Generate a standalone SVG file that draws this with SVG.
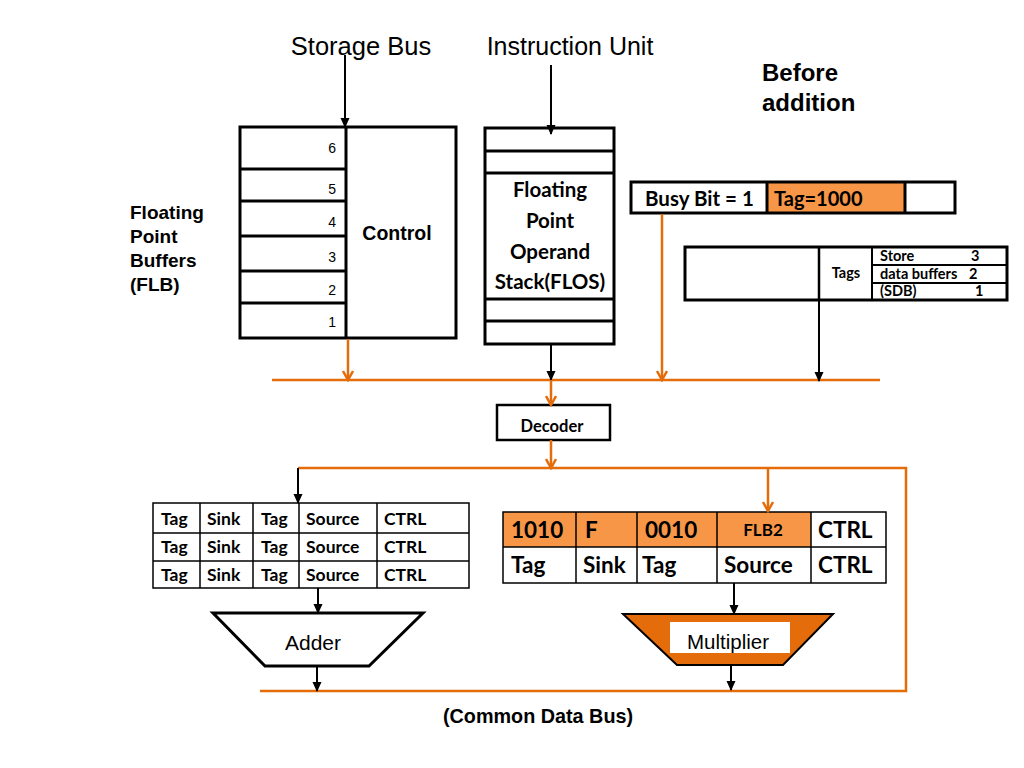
<svg xmlns="http://www.w3.org/2000/svg" width="1024" height="768" viewBox="0 0 1024 768">
<style>
.ar{font-family:"Liberation Sans",Arial,sans-serif}
.arb{font-family:"Liberation Sans",Arial,sans-serif;font-weight:bold}
.cb{font-family:Lato,"Noto Sans",sans-serif;font-weight:bold}
.box{fill:#fff;stroke:#000;stroke-width:3}
.thin{fill:none;stroke:#000;stroke-width:1.5}
.bk{stroke:#000;stroke-width:2;fill:none}
.or{stroke:#E46C0A;stroke-width:2.5;fill:none}
.fillor{fill:#F79646}
</style>
<defs>
<marker id="ab" markerUnits="userSpaceOnUse" markerWidth="10" markerHeight="12" refX="9" refY="5" orient="auto" viewBox="0 0 10 10">
<path d="M0,0.5 L10,5 L0,9.5 z" fill="#000"/>
</marker>
<marker id="ao" markerUnits="userSpaceOnUse" markerWidth="12" markerHeight="12" refX="10" refY="6" orient="auto" viewBox="0 0 12 12">
<path d="M1,1 L10,6 L1,11" fill="none" stroke="#E46C0A" stroke-width="2.5"/>
</marker>
</defs>
<rect width="1024" height="768" fill="#fff"/>

<g id="labels">
<text class="ar" x="361" y="55" font-size="25.5" text-anchor="middle">Storage Bus</text>
<text class="ar" x="570" y="55" font-size="25" text-anchor="middle">Instruction Unit</text>
<text class="arb" x="762" y="81" font-size="24">Before</text>
<text class="arb" x="762" y="111" font-size="24">addition</text>
<text class="arb" x="130" y="219" font-size="19">Floating</text>
<text class="arb" x="130" y="243" font-size="19">Point</text>
<text class="arb" x="130" y="267" font-size="19">Buffers</text>
<text class="arb" x="130" y="291" font-size="19">(FLB)</text>
<text class="arb" x="538" y="723" font-size="19.8" text-anchor="middle">(Common Data Bus)</text>
</g>

<g id="flb">
<rect class="box" x="240" y="127" width="216" height="211"/>
<line x1="346" y1="127" x2="346" y2="338" stroke="#000" stroke-width="3"/>
<g stroke="#000" stroke-width="3">
<line x1="240" y1="169" x2="346" y2="169"/>
<line x1="240" y1="201" x2="346" y2="201"/>
<line x1="240" y1="236" x2="346" y2="236"/>
<line x1="240" y1="271" x2="346" y2="271"/>
<line x1="240" y1="303" x2="346" y2="303"/>
</g>
<g class="ar" font-size="14" text-anchor="end">
<text x="336" y="153">6</text>
<text x="336" y="194">5</text>
<text x="336" y="227">4</text>
<text x="336" y="262">3</text>
<text x="336" y="295">2</text>
<text x="336" y="327">1</text>
</g>
<text class="arb" x="397" y="240" font-size="19.5" text-anchor="middle">Control</text>
</g>

<g id="flos">
<rect class="box" x="485" y="128" width="129" height="216"/>
<g stroke="#000" stroke-width="3">
<line x1="485" y1="151" x2="614" y2="151"/>
<line x1="485" y1="173" x2="614" y2="173"/>
<line x1="485" y1="299" x2="614" y2="299"/>
<line x1="485" y1="321" x2="614" y2="321"/>
</g>
<g class="cb" font-size="20.5" text-anchor="middle">
<text x="550" y="197">Floating</text>
<text x="550" y="228">Point</text>
<text x="550" y="259">Operand</text>
<text x="550" y="289">Stack(FLOS)</text>
</g>
</g>

<g id="busybit">
<rect class="fillor" x="767" y="182" width="138" height="31"/>
<rect x="631" y="182" width="324" height="31" fill="none" stroke="#000" stroke-width="3"/>
<line x1="767" y1="182" x2="767" y2="213" stroke="#000" stroke-width="3"/>
<line x1="905" y1="182" x2="905" y2="213" stroke="#000" stroke-width="3"/>
<text class="cb" x="645" y="206" font-size="20.5">Busy Bit = 1</text>
<text class="cb" x="774" y="206" font-size="20">Tag=1000</text>
</g>

<g id="tags">
<rect class="box" x="685" y="247" width="322" height="53"/>
<line x1="819" y1="247" x2="819" y2="300" stroke="#000" stroke-width="2.5"/>
<line x1="872" y1="247" x2="872" y2="300" stroke="#000" stroke-width="2"/>
<line x1="872" y1="265" x2="1007" y2="265" stroke="#000" stroke-width="2"/>
<line x1="872" y1="283" x2="1007" y2="283" stroke="#000" stroke-width="2"/>
<text class="cb" x="846" y="278" font-size="14.5" text-anchor="middle">Tags</text>
<g class="cb" font-size="14.5">
<text x="880" y="261">Store</text>
<text x="971" y="261">3</text>
<text x="880" y="279">data buffers</text>
<text x="969" y="279">2</text>
<text x="880" y="296">(SDB)</text>
<text x="975" y="296">1</text>
</g>
</g>

<g id="decoder">
<rect x="497" y="405" width="113" height="35" fill="#fff" stroke="#000" stroke-width="2.5"/>
<text class="cb" x="552" y="432" font-size="16.5" text-anchor="middle">Decoder</text>
</g>

<g id="adder-rs">
<rect class="thin" x="153" y="503" width="316" height="85"/>
<g stroke="#000" stroke-width="1.5">
<line x1="153" y1="533" x2="469" y2="533"/>
<line x1="153" y1="561" x2="469" y2="561"/>
<line x1="200" y1="503" x2="200" y2="588"/>
<line x1="253" y1="503" x2="253" y2="588"/>
<line x1="299" y1="503" x2="299" y2="588"/>
<line x1="377" y1="503" x2="377" y2="588"/>
</g>
<g class="cb" font-size="17.5">
<text x="161" y="525">Tag</text><text x="207" y="525">Sink</text><text x="261" y="525">Tag</text><text x="306" y="525">Source</text><text x="384" y="525">CTRL</text>
<text x="161" y="553">Tag</text><text x="207" y="553">Sink</text><text x="261" y="553">Tag</text><text x="306" y="553">Source</text><text x="384" y="553">CTRL</text>
<text x="161" y="581">Tag</text><text x="207" y="581">Sink</text><text x="261" y="581">Tag</text><text x="306" y="581">Source</text><text x="384" y="581">CTRL</text>
</g>
</g>

<g id="mult-rs">
<rect class="fillor" x="503" y="512" width="308" height="35"/>
<rect class="thin" x="503" y="512" width="383" height="71"/>
<g stroke="#000" stroke-width="1.5">
<line x1="503" y1="547" x2="886" y2="547"/>
<line x1="576" y1="512" x2="576" y2="583"/>
<line x1="637" y1="512" x2="637" y2="583"/>
<line x1="717" y1="512" x2="717" y2="583"/>
<line x1="811" y1="512" x2="811" y2="583"/>
</g>
<g class="cb" font-size="22.5">
<text x="511" y="538">1010</text><text x="585" y="538">F</text><text x="645" y="538">0010</text><text x="818" y="538">CTRL</text>
<text x="511" y="573">Tag</text><text x="583" y="573">Sink</text><text x="642" y="573">Tag</text><text x="724" y="573">Source</text><text x="818" y="573">CTRL</text>
</g>
<text class="cb" x="763" y="536" font-size="17" text-anchor="middle">FLB2</text>
</g>

<g id="adder">
<polygon points="213,613 423,613 369,666 265,666" fill="#fff" stroke="#000" stroke-width="3"/>
<text class="ar" x="313" y="650" font-size="21" text-anchor="middle">Adder</text>
</g>

<g id="multiplier">
<polygon points="623,614 833,614 783,665 677,665" fill="#E46C0A" stroke="#000" stroke-width="2"/>
<rect x="670" y="622" width="120" height="31" fill="#fff"/>
<text class="ar" x="728" y="649" font-size="20.5" text-anchor="middle">Multiplier</text>
</g>

<g id="connectors">
<line class="bk" x1="345" y1="55" x2="345" y2="127" marker-end="url(#ab)"/>
<line class="bk" x1="551" y1="65" x2="551" y2="134" marker-end="url(#ab)"/>
<line class="or" x1="272" y1="380" x2="880" y2="380"/>
<line class="or" x1="348" y1="339" x2="348" y2="380" marker-end="url(#ao)"/>
<line class="or" x1="662" y1="214" x2="662" y2="380" marker-end="url(#ao)"/>
<line class="bk" x1="819" y1="298" x2="819" y2="381" marker-end="url(#ab)"/>
<line class="bk" x1="551" y1="345" x2="551" y2="380" marker-end="url(#ab)"/>
<line class="or" x1="551" y1="380" x2="551" y2="405" marker-end="url(#ao)"/>
<line class="or" x1="551" y1="440" x2="551" y2="468" marker-end="url(#ao)"/>
<polyline class="or" points="298,468 906,468 906,691 260,691"/>
<line class="bk" x1="298" y1="468" x2="298" y2="503" marker-end="url(#ab)"/>
<line class="or" x1="768" y1="468" x2="768" y2="511" marker-end="url(#ao)"/>
<line class="bk" x1="318" y1="588" x2="318" y2="613" marker-end="url(#ab)"/>
<line class="bk" x1="317" y1="666" x2="317" y2="691" marker-end="url(#ab)"/>
<line class="bk" x1="734" y1="583" x2="734" y2="614" marker-end="url(#ab)"/>
<line class="bk" x1="731" y1="665" x2="731" y2="690" marker-end="url(#ab)"/>
</g>
</svg>
